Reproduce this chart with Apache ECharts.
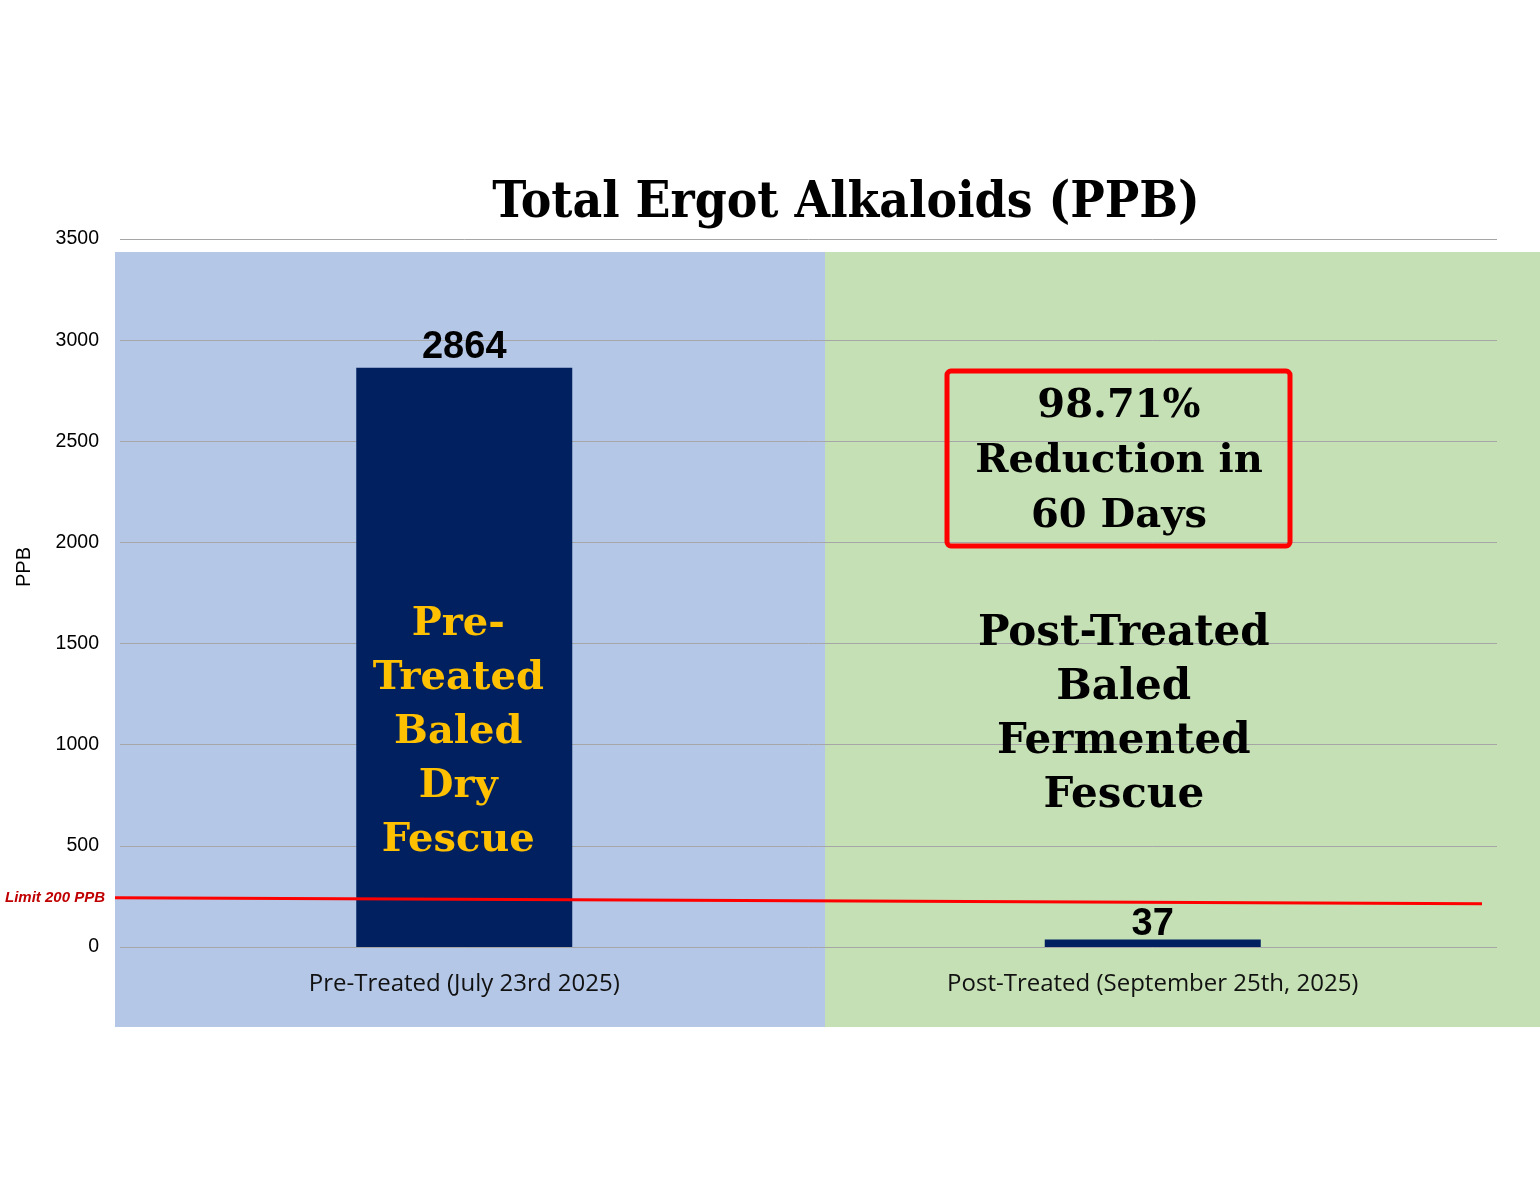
<!DOCTYPE html>
<html>
<head>
<meta charset="utf-8">
<script src="https://cdn.jsdelivr.net/npm/echarts@6/dist/echarts.min.js"></script>
<style>
html,body{margin:0;padding:0;background:#fff;}
#c{width:1540px;height:1190px;}
</style>
</head>
<body>
<div id="c"></div>
<script>
var categories = ['Pre-Treated (July 23rd 2025)', 'Post-Treated (September 25th, 2025)'];
var values = [2864, 37];
var yTicks = [0, 500, 1000, 1500, 2000, 2500, 3000, 3500];
var limitLine = [244, 214];
var titleText = 'Total Ergot Alkaloids (PPB)';
var preText = 'Pre-\nTreated\nBaled\nDry\nFescue';
var postText = 'Post-Treated\nBaled\nFermented\nFescue';
var boxText = '98.71%\nReduction in\n60 Days';
var limitLabel = 'Limit 200 PPB';

var labelDistances = [1, -4];

var chart = echarts.init(document.getElementById('c'), null, {renderer: 'canvas'});

chart.setOption({
  animation: false,
  backgroundColor: '#ffffff',
  title: {
    text: titleText,
    left: 841, top: 173, textAlign: 'center',
    textStyle: {fontFamily: '"DejaVu Serif Condensed", "DejaVu Serif", serif', fontWeight: 'bold', fontSize: 51, color: '#000'}
  },
  grid: {left: 120, right: 43, top: 239, bottom: 243, containLabel: false},
  xAxis: {
    type: 'category', data: categories,
    axisLine: {show: false}, axisTick: {show: false},
    axisLabel: {margin: 25, fontFamily: '"Open Sans", sans-serif', fontSize: 24, color: '#111'}
  },
  yAxis: {
    type: 'value', min: yTicks[0], max: yTicks[yTicks.length - 1], interval: 500,
    axisLine: {show: false}, axisTick: {show: false},
    axisLabel: {margin: 21, fontFamily: '"Liberation Sans", Arial, sans-serif', fontSize: 19.5, color: '#000',
      formatter: function (v) { return String(v); }},
    splitLine: {lineStyle: {color: '#a6a6a6', width: 1}}
  },
  series: [{
    type: 'bar', barWidth: 216,
    data: values.map(function (v, i) { return {value: v, label: {distance: labelDistances[i]}}; }),
    itemStyle: {color: '#002060'},
    label: {show: true, position: 'top',
      fontFamily: '"Liberation Sans", Arial, sans-serif', fontWeight: 'bold', fontSize: 38, color: '#000'}
  }]
});

function px(cat, v) { return chart.convertToPixel({gridIndex: 0}, [cat, v]); }
var gridRect = chart.getModel().getComponent('grid').coordinateSystem.getRect();
var p0 = px(categories[0], 0);
var p1 = px(categories[1], 0);
var l0 = chart.convertToPixel({yAxisIndex: 0}, limitLine[0]);
var l1 = chart.convertToPixel({yAxisIndex: 0}, limitLine[1]);
var preMid = chart.convertToPixel({yAxisIndex: 0}, 1060);
var postMid = chart.convertToPixel({yAxisIndex: 0}, 1145);
var boxMid = chart.convertToPixel({yAxisIndex: 0}, 2420);

chart.setOption({
  graphic: [
    {type: 'rect', z: -10, shape: {x: 115, y: 252, width: 710, height: 775}, style: {fill: '#B4C7E7'}, silent: true},
    {type: 'rect', z: -10, shape: {x: 825, y: 252, width: 715, height: 775}, style: {fill: '#C5E0B4'}, silent: true},
    {type: 'text', z: 10, x: 24, y: (gridRect.y + gridRect.height / 2) - 26, rotation: Math.PI / 2,
      style: {text: 'PPB', font: '20px "Liberation Sans", Arial, sans-serif', fill: '#000', align: 'center', verticalAlign: 'middle'}},
    {type: 'line', z: 10, shape: {x1: 115, y1: l0, x2: 1482, y2: l1}, style: {stroke: '#ff0000', lineWidth: 3}},
    {type: 'text', z: 10, x: 55, y: l0,
      style: {text: limitLabel, font: 'italic bold 15px "Liberation Sans", Arial, sans-serif', fill: '#C00000', align: 'center', verticalAlign: 'middle'}},
    {type: 'text', z: 10, x: p0[0] - 6, y: preMid,
      style: {text: preText, font: 'bold 40px "DejaVu Serif", serif', lineHeight: 54, fill: '#FFC000', align: 'center', verticalAlign: 'middle'}},
    {type: 'text', z: 10, x: p1[0] - 29, y: postMid,
      style: {text: postText, font: 'bold 42px "DejaVu Serif", serif', lineHeight: 54, fill: '#000', align: 'center', verticalAlign: 'middle'}},
    {type: 'rect', z: 10, shape: {x: 947, y: 371, width: 343, height: 175, r: 4}, style: {fill: 'none', stroke: '#ff0000', lineWidth: 5}},
    {type: 'text', z: 11, x: 1119, y: boxMid + 4,
      style: {text: boxText, font: 'bold 40px "DejaVu Serif", serif', lineHeight: 55, fill: '#000', align: 'center', verticalAlign: 'middle'}}
  ]
});
</script>
</body>
</html>
